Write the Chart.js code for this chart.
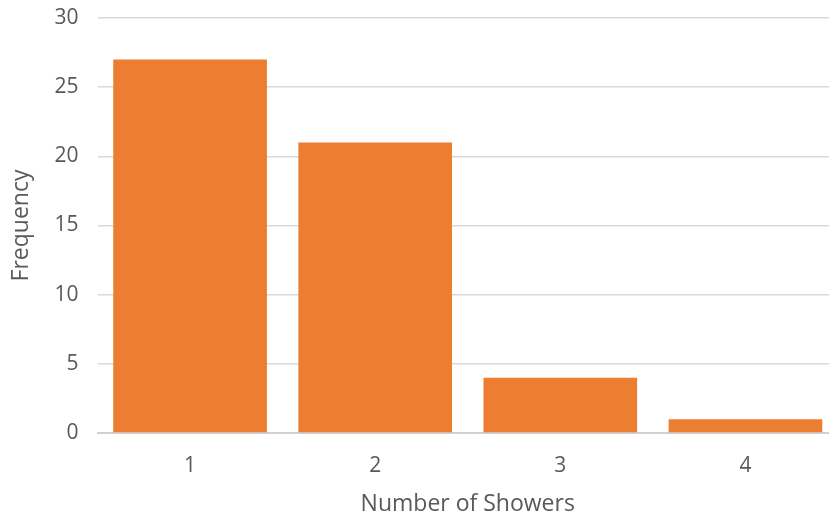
<!DOCTYPE html>
<html>
<head>
<meta charset="utf-8">
<script src="https://cdn.jsdelivr.net/npm/chart.js@4.4.1/dist/chart.umd.min.js"></script>
<style>
  html, body { margin: 0; padding: 0; background: #fff; overflow: hidden; }
  #wrap { width: 838px; height: 518px; }
</style>
</head>
<body>
<div id="wrap"><canvas id="c" width="838" height="518"></canvas></div>
<script>
// Frequency of number of showers
const categories = ['1', '2', '3', '4'];
const frequency = [27, 21, 4, 1];
const yTicks = [0, 5, 10, 15, 20, 25, 30];

const textColor = '#595959';
const fontFamily = '"Open Sans", "Segoe UI", sans-serif';

new Chart(document.getElementById('c'), {
  type: 'bar',
  data: {
    labels: categories,
    datasets: [{
      label: 'Frequency',
      data: frequency,
      backgroundColor: '#ED7D31',
      borderWidth: 0,
      barPercentage: 0.83,
      categoryPercentage: 1.0
    }]
  },
  options: {
    responsive: false,
    animation: false,
    layout: { padding: { top: 18, right: 0, bottom: 0, left: 0 } },
    plugins: { legend: { display: false }, tooltip: { enabled: false } },
    scales: {
      x: {
        grid: { display: false, drawTicks: false },
        border: { display: true, color: '#d0d0d0', width: 2 },
        ticks: { color: textColor, font: { family: fontFamily, size: 21 }, padding: 20 },
        title: {
          display: true,
          text: 'Number of Showers',
          color: textColor,
          font: { family: fontFamily, size: 23 },
          padding: { top: 6, bottom: 0 }
        },
        afterFit: (s) => { s.height = 85; }
      },
      y: {
        min: 0,
        max: 30,
        afterBuildTicks: (s) => { s.ticks = yTicks.map(v => ({ value: v })); },
        grid: { color: '#d9d9d9', lineWidth: 1.5, drawTicks: false },
        border: { display: false },
        ticks: { color: textColor, font: { family: fontFamily, size: 21 }, padding: 19 },
        title: {
          display: true,
          text: 'Frequency',
          color: textColor,
          font: { family: fontFamily, size: 23 },
          padding: { top: 8, bottom: 0 }
        },
        afterFit: (s) => {
          s.width = 97.5;
          s.paddingTop = 0;
          s.paddingBottom = 0;
        }
      }
    }
  }
});
</script>
</body>
</html>
